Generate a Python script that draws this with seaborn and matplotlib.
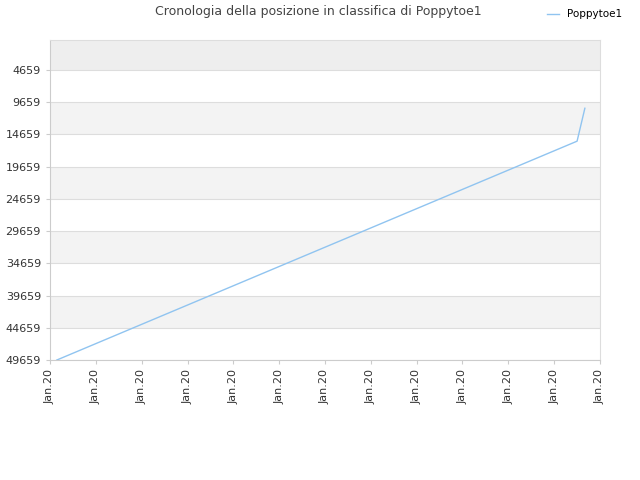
import matplotlib
matplotlib.use("Agg")
import matplotlib.pyplot as plt
import seaborn as sns
import pandas as pd

x_pos = [0.15, 11.5, 11.67]
ranks = [49659, 15700, 10590]
tick_labels = ["Jan.20"] * 13
y_ticks = [4659 + 5000 * i for i in range(10)]

df = pd.DataFrame({"x": x_pos, "rank": ranks})
fig = plt.figure(figsize=(6.4, 4.8), dpi=100)
ax = fig.add_axes([50/640, 120/480, 550/640, 320/480])
ax.set_xlim(0, 12)
ax.set_ylim(49659, -1)
edges = [-1] + y_ticks
for i in range(len(edges) - 1):
    col = "#eeeeee" if i == 0 else ("#f3f3f3" if i % 2 == 0 else "white")
    ax.axhspan(edges[i], edges[i + 1], color=col, zorder=0, lw=0)
for y in y_ticks:
    ax.axhline(y, color="#dddddd", lw=0.8, zorder=1)
sns.lineplot(data=df, x="x", y="rank", ax=ax, color="#90c4f0", lw=1, label="Poppytoe1", zorder=3)
ax.set_yticks(y_ticks)
ax.set_yticklabels([str(v) for v in y_ticks], fontsize=8, color="#333333")
ax.set_xticks(range(13))
ax.set_xticklabels(tick_labels, rotation=90, fontsize=8, color="#333333")
ax.set_xlabel(""); ax.set_ylabel("")
for s in ["top", "right"]:
    ax.spines[s].set_color("#dddddd")
for s in ["left", "bottom"]:
    ax.spines[s].set_color("#cccccc")
ax.tick_params(length=3, color="#cccccc")
ax.legend(loc="upper right", bbox_to_anchor=(632/640, 480/480), bbox_transform=fig.transFigure,
          frameon=False, fontsize=7.5, handlelength=1.2)
fig.text(318/640, 1 - 12/480, "Cronologia della posizione in classifica di Poppytoe1", ha="center", va="center",
         fontsize=9, color="#444444")
fig.savefig("out.png", dpi=100)
